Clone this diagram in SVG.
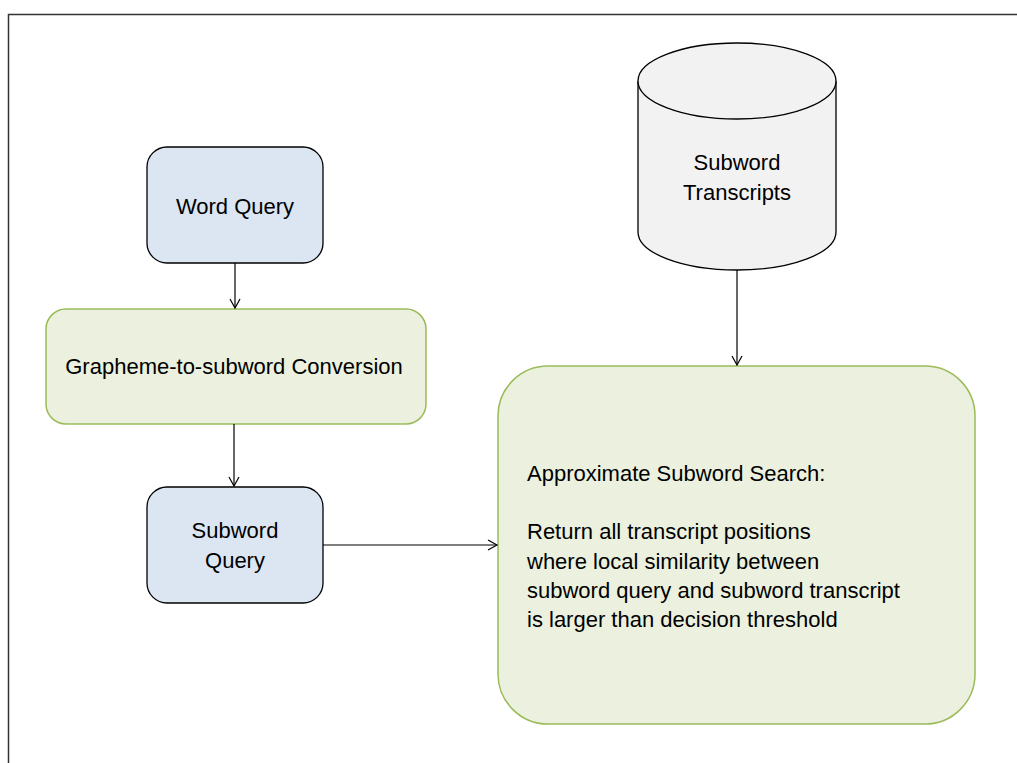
<svg xmlns="http://www.w3.org/2000/svg" width="1017" height="763" viewBox="0 0 1017 763">
<defs>
<marker id="arr" markerWidth="12" markerHeight="12" refX="10" refY="6" orient="auto" markerUnits="userSpaceOnUse">
<path d="M1,1 L10,6 L1,11" fill="none" stroke="#000" stroke-width="1.2"/>
</marker>
</defs>
<style>
text{font-family:"Liberation Sans",Arial,sans-serif;font-size:22px;fill:#000}
.c{text-anchor:middle}
.blue{fill:#dce6f2;stroke:#000;stroke-width:1.3}
.green{fill:#ebf1de;stroke:#9bbb59;stroke-width:1.5}
.cyl{fill:#f2f2f2;stroke:#000;stroke-width:1.3}
.conn{stroke:#000;stroke-width:1.2;fill:none;marker-end:url(#arr)}
</style>
<rect width="1017" height="763" fill="#fff"/>
<path d="M8.5,763 L8.5,14.5 L1017,14.5" fill="none" stroke="#333" stroke-width="1.5"/>
<g id="word-query">
<rect class="blue" x="147" y="147" width="176" height="116" rx="20"/>
<text class="c" x="235" y="214">Word Query</text>
</g>
<g id="g2s">
<rect class="green" x="46" y="309" width="380" height="115" rx="20"/>
<text class="c" x="234" y="374">Grapheme-to-subword Conversion</text>
</g>
<g id="subword-query">
<rect class="blue" x="147" y="487" width="176" height="116" rx="20"/>
<text class="c" x="235" y="538">Subword</text>
<text class="c" x="235" y="568">Query</text>
</g>
<g id="transcripts">
<path class="cyl" d="M638,81 L638,232 A99,38 0 0 0 836,232 L836,81 A99,38 0 0 0 638,81 Z"/>
<path class="cyl" d="M638,81 A99,38 0 0 0 836,81"/>
<text class="c" x="737" y="170">Subword</text>
<text class="c" x="737" y="200">Transcripts</text>
</g>
<g id="search">
<rect class="green" x="498" y="366" width="477" height="358" rx="50"/>
<text x="527" y="481">Approximate Subword Search:</text>
<text x="527" y="539">Return all transcript positions</text>
<text x="527" y="569">where local similarity between</text>
<text x="527" y="598">subword query and subword transcript</text>
<text x="527" y="627">is larger than decision threshold</text>
</g>
<g id="connectors">
<line class="conn" x1="235" y1="263" x2="235" y2="308"/>
<line class="conn" x1="234" y1="424" x2="234" y2="486"/>
<line class="conn" x1="323" y1="545" x2="497" y2="545"/>
<line class="conn" x1="737" y1="270" x2="737" y2="365"/>
</g>
</svg>
